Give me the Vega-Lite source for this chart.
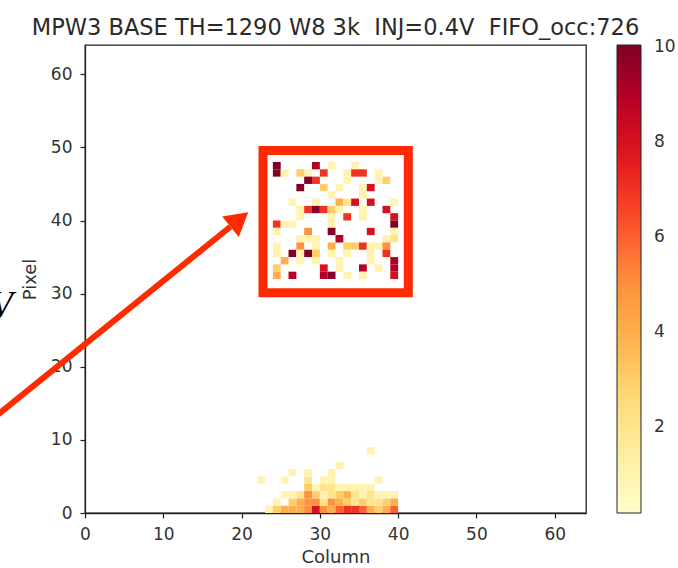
{
  "$schema": "https://vega.github.io/schema/vega-lite/v6.json",
  "width": 501,
  "height": 468,
  "autosize": {"type": "none"},
  "padding": {"left": 85, "top": 45, "right": 92, "bottom": 55},
  "title": {
    "text": "MPW3 BASE TH=1290 W8 3k \u00a0INJ=0.4V \u00a0FIFO_occ:726",
    "font": "DejaVu Sans",
    "fontSize": 22.5,
    "fontWeight": "normal",
    "color": "#2a2a2a",
    "anchor": "middle",
    "offset": 6
  },
  "config": {
    "font": "DejaVu Sans",
    "view": {"stroke": "#222", "strokeWidth": 1.3},
    "axis": {
      "grid": false,
      "domainColor": "#222",
      "domainWidth": 1.3,
      "tickColor": "#222",
      "tickSize": 5,
      "tickWidth": 1.2,
      "labelFont": "DejaVu Sans",
      "labelFontSize": 17,
      "labelColor": "#333",
      "labelFlush": false,
      "titleFont": "DejaVu Sans",
      "titleFontSize": 18,
      "titleFontWeight": "normal",
      "titleColor": "#333"
    }
  },
  "datasets": {
    "hits": [
      {"col": 24, "row": 47, "hits": 10}, {"col": 29, "row": 47, "hits": 9}, {"col": 31, "row": 47, "hits": 1}, {"col": 34, "row": 47, "hits": 1},
      {"col": 24, "row": 46, "hits": 10}, {"col": 25, "row": 46, "hits": 1}, {"col": 27, "row": 46, "hits": 3}, {"col": 28, "row": 46, "hits": 1}, {"col": 30, "row": 46, "hits": 7}, {"col": 33, "row": 46, "hits": 1}, {"col": 34, "row": 46, "hits": 7}, {"col": 35, "row": 46, "hits": 7}, {"col": 37, "row": 46, "hits": 1},
      {"col": 28, "row": 45, "hits": 10}, {"col": 29, "row": 45, "hits": 7}, {"col": 33, "row": 45, "hits": 1}, {"col": 37, "row": 45, "hits": 1}, {"col": 38, "row": 45, "hits": 3},
      {"col": 27, "row": 44, "hits": 10}, {"col": 30, "row": 44, "hits": 3}, {"col": 32, "row": 44, "hits": 1}, {"col": 35, "row": 44, "hits": 1}, {"col": 36, "row": 44, "hits": 8},
      {"col": 31, "row": 43, "hits": 1}, {"col": 35, "row": 43, "hits": 1},
      {"col": 26, "row": 42, "hits": 1}, {"col": 29, "row": 42, "hits": 1}, {"col": 32, "row": 42, "hits": 4}, {"col": 33, "row": 42, "hits": 2}, {"col": 34, "row": 42, "hits": 8}, {"col": 36, "row": 42, "hits": 8}, {"col": 39, "row": 42, "hits": 1},
      {"col": 27, "row": 41, "hits": 1}, {"col": 28, "row": 41, "hits": 7}, {"col": 29, "row": 41, "hits": 10}, {"col": 30, "row": 41, "hits": 7}, {"col": 31, "row": 41, "hits": 3}, {"col": 32, "row": 41, "hits": 1}, {"col": 35, "row": 41, "hits": 1}, {"col": 38, "row": 41, "hits": 8},
      {"col": 27, "row": 40, "hits": 1}, {"col": 31, "row": 40, "hits": 1}, {"col": 33, "row": 40, "hits": 7}, {"col": 35, "row": 40, "hits": 1}, {"col": 39, "row": 40, "hits": 8},
      {"col": 24, "row": 39, "hits": 7}, {"col": 25, "row": 39, "hits": 1}, {"col": 26, "row": 39, "hits": 1}, {"col": 31, "row": 39, "hits": 1}, {"col": 39, "row": 39, "hits": 10},
      {"col": 24, "row": 38, "hits": 1}, {"col": 28, "row": 38, "hits": 5}, {"col": 31, "row": 38, "hits": 10}, {"col": 36, "row": 38, "hits": 8}, {"col": 39, "row": 38, "hits": 1},
      {"col": 27, "row": 37, "hits": 1}, {"col": 28, "row": 37, "hits": 1}, {"col": 29, "row": 37, "hits": 1}, {"col": 32, "row": 37, "hits": 9}, {"col": 38, "row": 37, "hits": 1}, {"col": 39, "row": 37, "hits": 2},
      {"col": 24, "row": 36, "hits": 1}, {"col": 27, "row": 36, "hits": 5}, {"col": 29, "row": 36, "hits": 1}, {"col": 31, "row": 36, "hits": 4}, {"col": 33, "row": 36, "hits": 3}, {"col": 34, "row": 36, "hits": 3}, {"col": 35, "row": 36, "hits": 7}, {"col": 36, "row": 36, "hits": 1}, {"col": 37, "row": 36, "hits": 1}, {"col": 38, "row": 36, "hits": 5},
      {"col": 24, "row": 35, "hits": 1}, {"col": 26, "row": 35, "hits": 10}, {"col": 27, "row": 35, "hits": 1}, {"col": 28, "row": 35, "hits": 10}, {"col": 29, "row": 35, "hits": 3}, {"col": 31, "row": 35, "hits": 1}, {"col": 33, "row": 35, "hits": 1}, {"col": 36, "row": 35, "hits": 1}, {"col": 38, "row": 35, "hits": 7},
      {"col": 25, "row": 34, "hits": 4}, {"col": 27, "row": 34, "hits": 1}, {"col": 29, "row": 34, "hits": 1}, {"col": 32, "row": 34, "hits": 1}, {"col": 36, "row": 34, "hits": 1}, {"col": 39, "row": 34, "hits": 9},
      {"col": 24, "row": 33, "hits": 3}, {"col": 30, "row": 33, "hits": 8}, {"col": 32, "row": 33, "hits": 1}, {"col": 35, "row": 33, "hits": 9}, {"col": 37, "row": 33, "hits": 1}, {"col": 39, "row": 33, "hits": 9},
      {"col": 24, "row": 32, "hits": 4}, {"col": 26, "row": 32, "hits": 9}, {"col": 30, "row": 32, "hits": 9}, {"col": 31, "row": 32, "hits": 10}, {"col": 33, "row": 32, "hits": 1}, {"col": 35, "row": 32, "hits": 1}, {"col": 39, "row": 32, "hits": 8},
      {"col": 23, "row": 0, "hits": 1}, {"col": 24, "row": 0, "hits": 3}, {"col": 25, "row": 0, "hits": 4}, {"col": 26, "row": 0, "hits": 4}, {"col": 27, "row": 0, "hits": 4}, {"col": 28, "row": 0, "hits": 5}, {"col": 29, "row": 0, "hits": 8}, {"col": 30, "row": 0, "hits": 5}, {"col": 31, "row": 0, "hits": 4}, {"col": 32, "row": 0, "hits": 6}, {"col": 33, "row": 0, "hits": 7}, {"col": 34, "row": 0, "hits": 7}, {"col": 35, "row": 0, "hits": 6}, {"col": 36, "row": 0, "hits": 4}, {"col": 37, "row": 0, "hits": 3}, {"col": 38, "row": 0, "hits": 4}, {"col": 39, "row": 0, "hits": 6},
      {"col": 24, "row": 1, "hits": 1}, {"col": 26, "row": 1, "hits": 3}, {"col": 27, "row": 1, "hits": 4}, {"col": 28, "row": 1, "hits": 5}, {"col": 29, "row": 1, "hits": 5}, {"col": 30, "row": 1, "hits": 2}, {"col": 31, "row": 1, "hits": 5}, {"col": 32, "row": 1, "hits": 4}, {"col": 33, "row": 1, "hits": 3}, {"col": 34, "row": 1, "hits": 2}, {"col": 35, "row": 1, "hits": 3}, {"col": 36, "row": 1, "hits": 2}, {"col": 37, "row": 1, "hits": 2}, {"col": 38, "row": 1, "hits": 3}, {"col": 39, "row": 1, "hits": 4},
      {"col": 25, "row": 2, "hits": 1}, {"col": 26, "row": 2, "hits": 1}, {"col": 27, "row": 2, "hits": 2}, {"col": 28, "row": 2, "hits": 5}, {"col": 29, "row": 2, "hits": 3}, {"col": 30, "row": 2, "hits": 1}, {"col": 31, "row": 2, "hits": 2}, {"col": 32, "row": 2, "hits": 3}, {"col": 33, "row": 2, "hits": 4}, {"col": 34, "row": 2, "hits": 2}, {"col": 35, "row": 2, "hits": 1}, {"col": 36, "row": 2, "hits": 2}, {"col": 37, "row": 2, "hits": 1}, {"col": 38, "row": 2, "hits": 1}, {"col": 39, "row": 2, "hits": 1},
      {"col": 28, "row": 3, "hits": 3}, {"col": 29, "row": 3, "hits": 1}, {"col": 30, "row": 3, "hits": 2}, {"col": 31, "row": 3, "hits": 2}, {"col": 32, "row": 3, "hits": 1}, {"col": 33, "row": 3, "hits": 1}, {"col": 34, "row": 3, "hits": 1}, {"col": 35, "row": 3, "hits": 1}, {"col": 36, "row": 3, "hits": 1},
      {"col": 22, "row": 4, "hits": 1}, {"col": 25, "row": 4, "hits": 1}, {"col": 28, "row": 4, "hits": 2}, {"col": 30, "row": 4, "hits": 1}, {"col": 31, "row": 4, "hits": 1}, {"col": 37, "row": 4, "hits": 1},
      {"col": 26, "row": 5, "hits": 1}, {"col": 28, "row": 5, "hits": 1}, {"col": 31, "row": 5, "hits": 1},
      {"col": 32, "row": 6, "hits": 1},
      {"col": 36, "row": 8, "hits": 1}
    ]
  },
  "layer": [
    {
      "data": {"name": "hits"},
      "mark": {"type": "rect", "width": 7.83, "height": 7.32, "xOffset": 3.914, "yOffset": -3.656},
      "encoding": {
        "x": {
          "field": "col",
          "type": "quantitative",
          "scale": {"domain": [0, 64], "nice": false, "zero": false},
          "axis": {"title": "Column", "values": [0, 10, 20, 30, 40, 50, 60], "labelPadding": 8, "titlePadding": 6}
        },
        "y": {
          "field": "row",
          "type": "quantitative",
          "scale": {"domain": [0, 64], "nice": false, "zero": false},
          "axis": {"title": "Pixel", "values": [0, 10, 20, 30, 40, 50, 60], "labelPadding": 8, "titlePadding": 11}
        },
        "color": {
          "field": "hits",
          "type": "quantitative",
          "scale": {
            "type": "linear",
            "domain": [0.2, 1.43125, 2.6625, 3.89375, 5.125, 6.35625, 7.5875, 8.81875, 10.05],
            "range": ["#ffffcc", "#ffeda0", "#fed976", "#feb24c", "#fd8d3c", "#fc4e2a", "#e31a1c", "#bd0026", "#800026"],
            "interpolate": "rgb",
            "nice": false,
            "zero": false
          },
          "legend": {
            "orient": "none",
            "legendX": 532,
            "legendY": 0,
            "direction": "vertical",
            "title": null,
            "padding": 0,
            "gradientLength": 468,
            "gradientThickness": 24,
            "gradientStrokeColor": "#222",
            "gradientStrokeWidth": 1,
            "values": [2, 4, 6, 8, 10],
            "labelFont": "DejaVu Sans",
            "labelFontSize": 17,
            "labelColor": "#333",
            "labelOffset": 13,
            "labelOverlap": false
          }
        }
      }
    },
    {
      "data": {"values": [{}]},
      "mark": {"type": "rect", "fillOpacity": 0, "stroke": "#ff2a00", "strokeWidth": 9},
      "encoding": {
        "x": {"datum": 22.74},
        "x2": {"datum": 41.3},
        "y": {"datum": 49.57},
        "y2": {"datum": 30.11}
      }
    },
    {
      "data": {"values": [{}]},
      "mark": {"type": "rule", "color": "#ff2a00", "strokeWidth": 6, "strokeCap": "butt"},
      "encoding": {
        "x": {"datum": -12.14},
        "y": {"datum": 12.58},
        "x2": {"datum": 18.57},
        "y2": {"datum": 39.15}
      }
    },
    {
      "data": {"values": [{}]},
      "mark": {"type": "point", "shape": "triangle-up", "filled": true, "color": "#ff2a00", "opacity": 1, "size": 700, "angle": 51, "strokeWidth": 0},
      "encoding": {
        "x": {"datum": 19.72},
        "y": {"datum": 40.14}
      }
    },
    {
      "data": {"values": [{}]},
      "mark": {"type": "text", "text": "V", "font": "Liberation Serif", "fontStyle": "italic", "fontSize": 37, "align": "right", "baseline": "alphabetic", "color": "#000"},
      "encoding": {
        "x": {"datum": -9.2},
        "y": {"datum": 26.8}
      }
    }
  ]
}
